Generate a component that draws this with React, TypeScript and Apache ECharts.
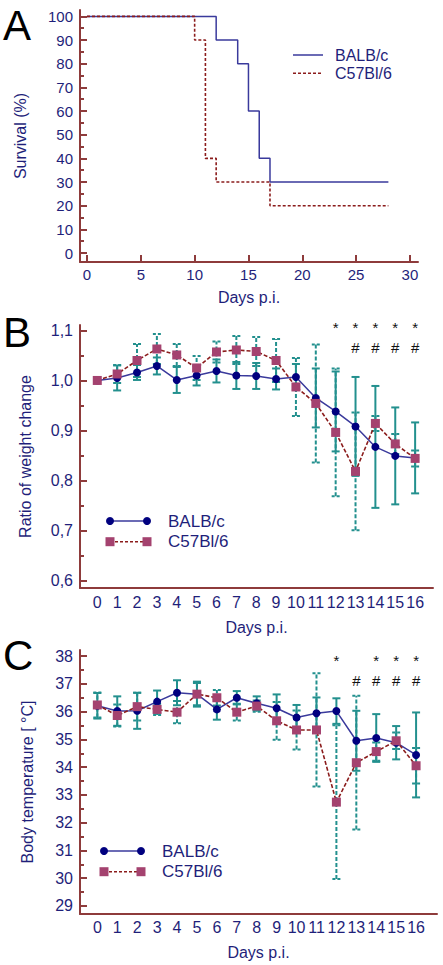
import React, { useEffect, useRef } from 'react';
import * as echarts from 'echarts';

// ---------- Panel A: survival ----------
const survivalDaysBalb = [0, 12, 14, 15, 16, 17, 28];
const survivalBalb = [100, 90, 80, 60, 40, 30, 30];
const survivalDaysC57 = [0, 10, 11, 12, 17, 28];
const survivalC57 = [100, 90, 40, 30, 20, 20];
const survivalXTicks = [0, 5, 10, 15, 20, 25, 30];
const survivalYTicks = [0, 10, 20, 30, 40, 50, 60, 70, 80, 90, 100];
const survivalYMinor = [5, 15, 25, 35, 45, 55, 65, 75, 85, 95];

// ---------- shared days ----------
const days = [0, 1, 2, 3, 4, 5, 6, 7, 8, 9, 10, 11, 12, 13, 14, 15, 16];

// ---------- Panel B: weight ratio ----------
const weightBalb = [1.0, 1.005, 1.016, 1.029, 1.001, 1.01, 1.019, 1.01, 1.009, 1.003, 1.007, 0.965, 0.938, 0.908, 0.867, 0.849, 0.845];
const weightBalbSd = [0, 0.025, 0.015, 0.017, 0.026, 0.02, 0.023, 0.027, 0.026, 0.021, 0.026, 0.059, 0.08, 0.099, 0.122, 0.097, 0.071];
const weightC57 = [1.0, 1.013, 1.04, 1.063, 1.051, 1.025, 1.057, 1.061, 1.058, 1.04, 0.987, 0.954, 0.896, 0.818, 0.914, 0.873, 0.844];
const weightC57Sd = [0, 0.018, 0.033, 0.03, 0.022, 0.024, 0.021, 0.028, 0.029, 0.043, 0.058, 0.118, 0.128, 0.118, 0.015, 0.02, 0.016];
const weightYTicks = [0.6, 0.7, 0.8, 0.9, 1.0, 1.1];
const weightYMinor = [0.65, 0.75, 0.85, 0.95, 1.05];
const weightStarDays = [12, 13, 14, 15, 16];
const weightHashDays = [13, 14, 15, 16];

// ---------- Panel C: body temperature ----------
const tempBalb = [36.21, 36.02, 36.03, 36.36, 36.68, 36.63, 36.08, 36.5, 36.3, 36.12, 35.79, 35.94, 36.02, 34.95, 35.05, 34.88, 34.44];
const tempBalbSd = [0.46, 0.53, 0.65, 0.4, 0.45, 0.45, 0.37, 0.24, 0.25, 0.5, 0.45, 0.57, 0.46, 1.08, 0.86, 0.6, 1.53];
const tempC57 = [36.24, 35.86, 36.18, 36.08, 35.98, 36.63, 36.5, 35.98, 36.2, 35.67, 35.34, 35.34, 32.74, 34.16, 34.56, 34.95, 34.05];
const tempC57Sd = [0.45, 0.4, 0.5, 0.2, 0.4, 0.4, 0.28, 0.3, 0.2, 0.68, 0.7, 2.04, 2.77, 2.41, 0.33, 0.3, 0.64];
const tempYTicks = [29, 30, 31, 32, 33, 34, 35, 36, 37, 38];
const tempYMinor = [29.5, 30.5, 31.5, 32.5, 33.5, 34.5, 35.5, 36.5, 37.5];
const tempStarDays = [12, 14, 15, 16];
const tempHashDays = [13, 14, 15, 16];

const seriesNames = ['BALB/c', 'C57Bl/6'];

const FONT = 'Liberation Sans, Arial, Helvetica, sans-serif';
const AXIS = '#8e3b3b';
const LABEL = '#1f1f7a';
const NAVY = '#00007f';
const BLUE_LINE = '#3a3a9c';
const RED_LINE = '#8b1c1c';
const SQUARE = '#a4426f';
const TEAL = '#23908e';

function xAxisDef(gridIndex: number, min: number, max: number, ticks: number[], nameGap: number, showTicks: boolean, labelMargin: number, fontSize: number) {
  return {
    type: 'value', gridIndex, min, max,
    name: 'Days p.i.', nameLocation: 'middle', nameGap, nameMoveOverlap: false,
    nameTextStyle: { color: LABEL, fontSize: 16, fontFamily: FONT },
    axisLine: { show: true, onZero: false, lineStyle: { color: AXIS, width: 2 } },
    axisTick: { show: showTicks, inside: true, length: 7, customValues: ticks, lineStyle: { color: AXIS, width: 2 } },
    axisLabel: { show: true, customValues: ticks, margin: labelMargin, color: LABEL, fontSize, fontFamily: FONT, hideOverlap: false },
    splitLine: { show: false },
  };
}

function yAxisDef(gridIndex: number, min: number, max: number, ticks: number[], name: string, nameGap: number, fontSize: number, fmt: (v: number) => string) {
  return {
    type: 'value', gridIndex, min, max, position: 'left',
    name, nameLocation: 'middle', nameGap, nameRotate: 90, nameMoveOverlap: false,
    nameTextStyle: { color: LABEL, fontSize: 16, fontFamily: FONT },
    axisLine: { show: true, onZero: false, lineStyle: { color: AXIS, width: 2 } },
    axisTick: { show: true, inside: true, length: 7, customValues: ticks, lineStyle: { color: AXIS, width: 2 } },
    axisLabel: { show: true, customValues: ticks, margin: 7, color: LABEL, fontSize, fontFamily: FONT, formatter: (v: number) => fmt(v), hideOverlap: false },
    splitLine: { show: false },
  };
}

function minorAxisDef(gridIndex: number, min: number, max: number, ticks: number[]) {
  return {
    type: 'value', gridIndex, min, max, position: 'left',
    axisLine: { show: false, onZero: false },
    axisTick: { show: true, inside: true, length: 4, customValues: ticks, lineStyle: { color: AXIS, width: 2 } },
    axisLabel: { show: false },
    splitLine: { show: false },
  };
}

function errorBars(name: string, xIdx: number, yIdx: number, means: number[], sds: number[], dashed: boolean) {
  const data = days.map((d, i) => [d, means[i] - sds[i], means[i] + sds[i]]).filter((_, i) => sds[i] > 0);
  return {
    type: 'custom', name, xAxisIndex: xIdx, yAxisIndex: yIdx, silent: true, z: 1,
    data,
    encode: { x: 0, y: [1, 2] },
    renderItem: (_p: any, api: any) => {
      const x = api.value(0);
      const lo = api.coord([x, api.value(1)]);
      const hi = api.coord([x, api.value(2)]);
      const w = 4;
      const style: any = { stroke: TEAL, lineWidth: 2, fill: null };
      if (dashed) style.lineDash = [4, 2];
      const cap: any = { stroke: TEAL, lineWidth: 2, fill: null };
      if (dashed) cap.lineDash = [3, 2];
      return {
        type: 'group',
        children: [
          { type: 'line', shape: { x1: lo[0], y1: lo[1], x2: hi[0], y2: hi[1] }, style },
          { type: 'line', shape: { x1: lo[0] - w, y1: lo[1], x2: lo[0] + w, y2: lo[1] }, style: cap },
          { type: 'line', shape: { x1: hi[0] - w, y1: hi[1], x2: hi[0] + w, y2: hi[1] }, style: cap },
        ],
      };
    },
  };
}

function markText(xIdx: number, yIdx: number, dayList: number[], yVal: number, ch: string) {
  return {
    type: 'custom', xAxisIndex: xIdx, yAxisIndex: yIdx, silent: true, z: 5,
    data: dayList.map((d) => [d, yVal]),
    encode: { x: 0, y: 1 },
    renderItem: (_p: any, api: any) => {
      const pt = api.coord([api.value(0), api.value(1)]);
      return {
        type: 'text', x: pt[0], y: pt[1],
        style: { text: ch, fill: '#111', fontSize: 15, fontFamily: FONT, align: 'center', verticalAlign: 'middle' },
      };
    },
  };
}

function meanLine(name: string, xIdx: number, yIdx: number, means: number[], isBalb: boolean) {
  return {
    type: 'line', name, xAxisIndex: xIdx, yAxisIndex: yIdx, z: isBalb ? 3 : 4,
    data: days.map((d, i) => [d, means[i]]),
    symbol: isBalb ? 'circle' : 'rect',
    symbolSize: isBalb ? 8 : 9,
    itemStyle: { color: isBalb ? NAVY : SQUARE },
    lineStyle: isBalb ? { color: BLUE_LINE, width: 1.5 } : { color: RED_LINE, width: 1.6, type: [4, 2] },
  };
}

function legendGroup(x0: number, x1: number, textX: number, y1: number, y2: number, withMarkers: boolean) {
  const els: any[] = [];
  els.push({ type: 'line', shape: { x1: x0, y1: y1, x2: x1, y2: y1 }, style: { stroke: BLUE_LINE, lineWidth: 1.5 } });
  els.push({ type: 'line', shape: { x1: x0, y1: y2, x2: x1, y2: y2 }, style: { stroke: RED_LINE, lineWidth: 1.6, lineDash: [3, 2] } });
  if (withMarkers) {
    [x0, x1].forEach((x) => {
      els.push({ type: 'circle', shape: { cx: x, cy: y1, r: 4 }, style: { fill: NAVY } });
      els.push({ type: 'rect', shape: { x: x - 4.5, y: y2 - 4.5, width: 9, height: 9 }, style: { fill: SQUARE } });
    });
  }
  const fs = withMarkers ? 17 : 16;
  els.push({ type: 'text', x: textX, y: y1, style: { text: seriesNames[0], fill: LABEL, fontSize: fs, fontFamily: FONT, verticalAlign: 'middle' } });
  els.push({ type: 'text', x: textX, y: y2, style: { text: seriesNames[1], fill: LABEL, fontSize: fs, fontFamily: FONT, verticalAlign: 'middle' } });
  return els;
}

function panelLetter(ch: string, y: number) {
  return { type: 'text', x: 3, y, style: { text: ch, fill: '#000', fontSize: 42, fontFamily: FONT, verticalAlign: 'top' } };
}

const comma = (v: number) => v.toFixed(1).replace('.', ',');
const plain = (v: number) => String(v);

export default function App() {
  const ref = useRef<HTMLDivElement>(null);
  useEffect(() => {
    if (!ref.current) return;
    const chart = echarts.init(ref.current, null, { renderer: 'svg' });
    const option: any = {
      animation: false,
      backgroundColor: '#fff',
      grid: [
        { left: 80, top: 10, width: 338, height: 252, outerBoundsMode: 'none', containLabel: false },
        { left: 80, top: 325, width: 353, height: 263, outerBoundsMode: 'none', containLabel: false },
        { left: 80, top: 650, width: 357, height: 264, outerBoundsMode: 'none', containLabel: false },
      ],
      xAxis: [
        xAxisDef(0, -0.65, 30.75, survivalXTicks, 27, true, 5, 15),
        xAxisDef(1, -0.87, 16.9, days, 31, false, 6, 16),
        xAxisDef(2, -0.87, 17.05, days, 30, false, 5, 16),
      ],
      yAxis: [
        yAxisDef(0, -3.8, 102.7, survivalYTicks, 'Survival (%)', 52, 15, plain),
        minorAxisDef(0, -3.8, 102.7, survivalYMinor),
        yAxisDef(1, 0.5846, 1.111, weightYTicks, 'Ratio of weight change', 47, 16, comma),
        minorAxisDef(1, 0.5846, 1.111, weightYMinor),
        yAxisDef(2, 28.71, 38.22, tempYTicks, 'Body temperature [ °C]', 45, 16, plain),
        minorAxisDef(2, 28.71, 38.22, tempYMinor),
      ],
      series: [
        {
          type: 'line', name: seriesNames[0], xAxisIndex: 0, yAxisIndex: 0, step: 'end', symbol: 'none', z: 3,
          data: survivalDaysBalb.map((d, i) => [d, survivalBalb[i]]),
          lineStyle: { color: BLUE_LINE, width: 1.5 },
        },
        {
          type: 'line', name: seriesNames[1], xAxisIndex: 0, yAxisIndex: 0, step: 'end', symbol: 'none', z: 4,
          data: survivalDaysC57.map((d, i) => [d, survivalC57[i]]),
          lineStyle: { color: RED_LINE, width: 1.6, type: [3, 2] },
        },
        errorBars('BALB/c SD', 1, 2, weightBalb, weightBalbSd, false),
        errorBars('C57Bl/6 SD', 1, 2, weightC57, weightC57Sd, true),
        meanLine(seriesNames[0], 1, 2, weightBalb, true),
        meanLine(seriesNames[1], 1, 2, weightC57, false),
        markText(1, 2, weightStarDays, 1.105, '*'),
        markText(1, 2, weightHashDays, 1.066, '#'),
        errorBars('BALB/c SD', 2, 4, tempBalb, tempBalbSd, false),
        errorBars('C57Bl/6 SD', 2, 4, tempC57, tempC57Sd, true),
        meanLine(seriesNames[0], 2, 4, tempBalb, true),
        meanLine(seriesNames[1], 2, 4, tempC57, false),
        markText(2, 4, tempStarDays, 37.83, '*'),
        markText(2, 4, tempHashDays, 37.12, '#'),
      ],
      graphic: [
        ...legendGroup(293, 323, 335, 55, 73.3, false),
        ...legendGroup(110, 147, 168, 521, 541.7, true),
        ...legendGroup(104, 141, 162, 851, 871.7, true),
        panelLetter('A', 4),
        panelLetter('B', 311),
        panelLetter('C', 634),
      ],
    };
    chart.setOption(option);
    return () => chart.dispose();
  }, []);
  return <div ref={ref} style={{ position: 'absolute', left: 0, top: 0, width: 443, height: 965, background: '#fff' }} />;
}
